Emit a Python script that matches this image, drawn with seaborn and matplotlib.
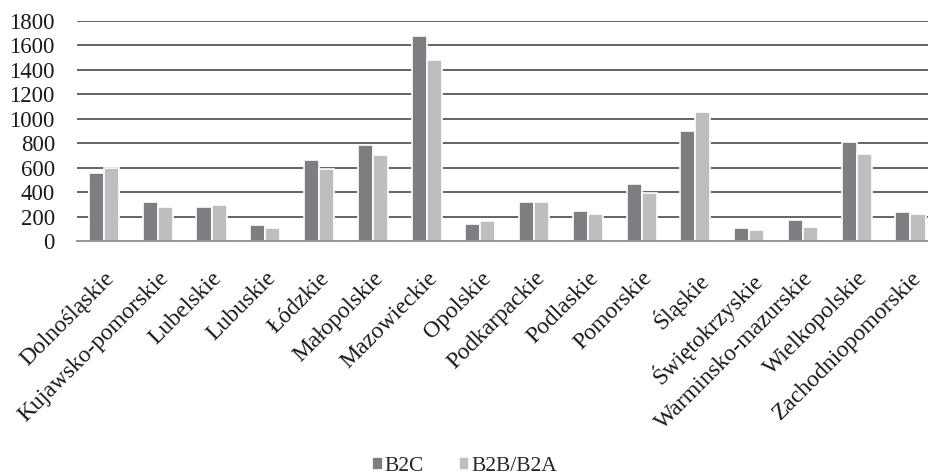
import matplotlib
matplotlib.use("Agg")
import matplotlib.pyplot as plt
import seaborn as sns
import pandas as pd

regions = ["Dolnośląskie", "Kujawsko-pomorskie", "Lubelskie", "Lubuskie", "Łódzkie",
           "Małopolskie", "Mazowieckie", "Opolskie", "Podkarpackie", "Podlaskie",
           "Pomorskie", "Śląskie", "Świętokrzyskie", "Warminsko-mazurskie",
           "Wielkopolskie", "Zachodniopomorskie"]
b2c = [556, 324, 278, 131, 664, 784, 1680, 141, 324, 250, 471, 904, 109, 177, 811, 237]
b2b = [596, 280, 297, 109, 588, 705, 1481, 168, 320, 220, 392, 1056, 90, 119, 716, 220]
series = ["B2C", "B2B/B2A"]
yticks = [0, 200, 400, 600, 800, 1000, 1200, 1400, 1600, 1800]

df = pd.DataFrame({
    "region": regions * 2,
    "value": b2c + b2b,
    "type": [series[0]] * len(regions) + [series[1]] * len(regions),
})

sns.set_theme(style="white")
plt.rcParams["font.family"] = ["Liberation Serif", "DejaVu Serif"]

fig = plt.figure(figsize=(9.29, 4.76), dpi=100)
ax = fig.add_axes([0.083, 0.493, 0.926, 0.463])

ax.set_axisbelow(True)
for t in yticks[1:]:
    ax.axhline(t, color="#3a3a3a", lw=1.1, zorder=0)

sns.barplot(data=df, x="region", y="value", hue="type", order=regions,
            hue_order=series, palette=["#7e7e82", "#bebec1"], width=0.56,
            edgecolor="white", linewidth=1.2, saturation=1, ax=ax, legend=True)

ax.set_ylim(0, 1800)
ax.set_yticks(yticks)
ax.set_xlim(-0.5, len(regions) - 0.5)
ax.set_xlabel("")
ax.set_ylabel("")
for s in ["left", "right", "top"]:
    ax.spines[s].set_visible(False)
ax.spines["bottom"].set_color("#8c8c8c")
ax.spines["bottom"].set_linewidth(1.3)
ax.tick_params(axis="both", length=0, colors="#1a1a1a")
ax.tick_params(axis="y", pad=16, labelsize=16.5)
plt.setp(ax.get_xticklabels(), rotation=45, ha="right", rotation_mode="anchor")
ax.tick_params(axis="x", pad=19, labelsize=17)

handles, labels = ax.get_legend_handles_labels()
ax.legend_.remove()
fig.legend(handles, labels, loc="lower center", bbox_to_anchor=(0.5, -0.032), ncol=2,
           frameon=False, fontsize=15.5, handlelength=0.5, handleheight=0.5,
           handletextpad=0.1, columnspacing=1.6, borderpad=0.2)

fig.savefig("out.png", dpi=100)
